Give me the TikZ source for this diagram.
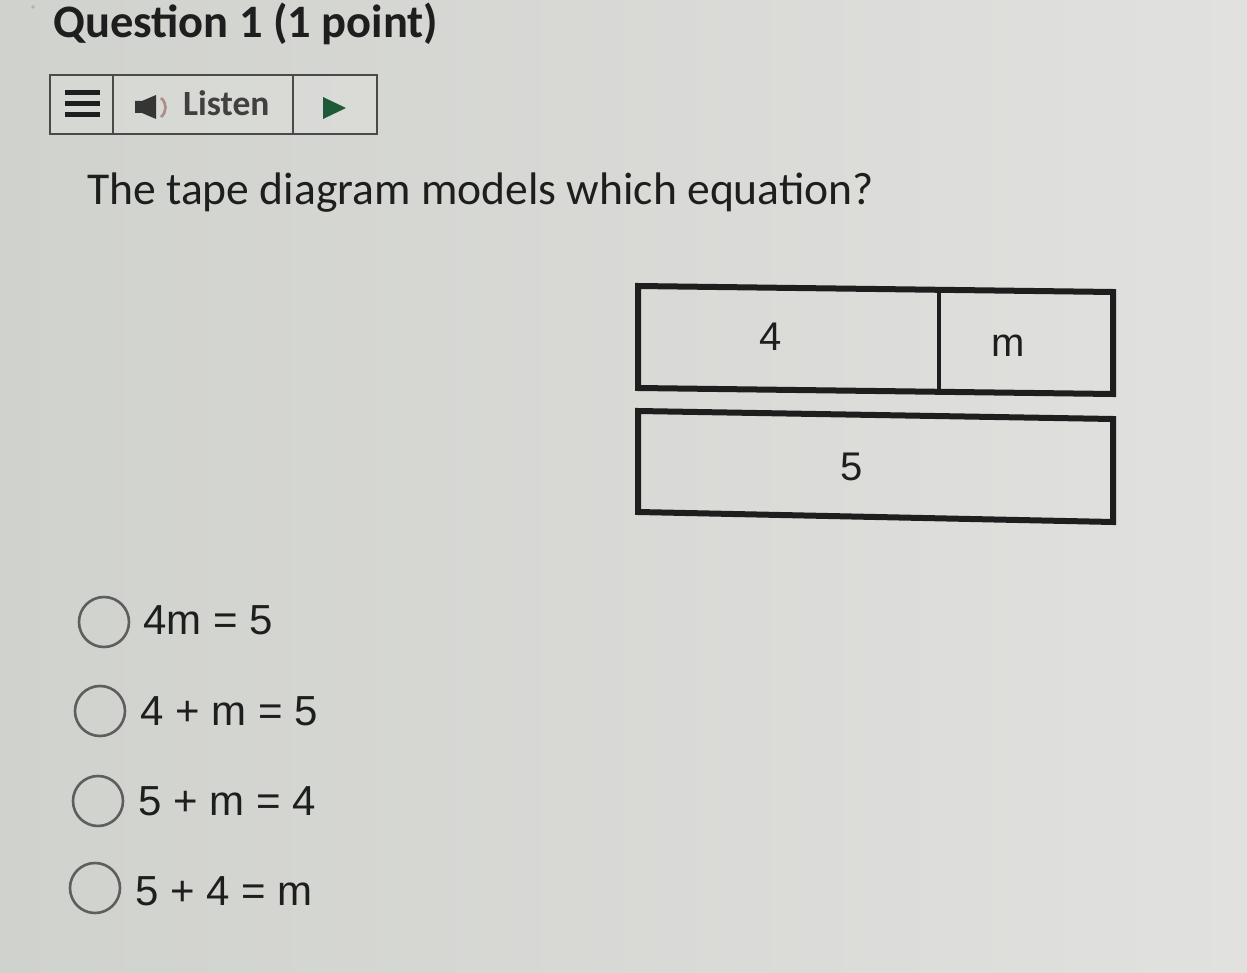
\documentclass[tikz,border=0pt]{standalone}
\usepackage{fontspec}
\setmainfont{Liberation Sans}
\newfontfamily\calfont{Carlito}
\definecolor{bgL}{HTML}{D0D2CD}
\definecolor{bgR}{HTML}{E1E1DF}
\definecolor{ink}{HTML}{1E1E1E}
\definecolor{barline}{HTML}{4A4A4A}
\definecolor{circ}{HTML}{5E5E5E}
\definecolor{playgreen}{HTML}{1F5A38}
\definecolor{wave}{HTML}{B08A86}
\tikzset{
  titletext/.style={anchor=base west, inner sep=0pt, text=ink, font=\calfont\bfseries\fontsize{46.5}{54}\selectfont},
  qtext/.style={anchor=base west, inner sep=0pt, text=ink, font=\calfont\fontsize{45.6}{54}\selectfont},
  listentext/.style={anchor=base west, inner sep=0pt, text=ink!85, font=\calfont\bfseries\fontsize{35.5}{40}\selectfont},
  tapelabel/.style={anchor=base, inner sep=0pt, text=ink, font=\fontsize{40}{44}\selectfont},
  opttext/.style={anchor=base west, inner sep=0pt, text=ink, font=\fontsize{42}{48}\selectfont},
  tapebox/.style={draw=ink, line width=6pt, line join=miter},
  tapediv/.style={draw=ink, line width=3.5pt},
  radio/.style={draw=circ, line width=2.6pt},
  barbox/.style={fill=white, fill opacity=0.12},
}
\begin{document}
\begin{tikzpicture}[x=1pt,y=-1pt]
\useasboundingbox (0,0) rectangle (1247,973);
\shade[left color=bgL, right color=bgR] (0,0) rectangle (1247,973);
\fill[gray!60] (33,7) circle (1.8);

% title
\node[titletext] (title) at (53,38) {Question 1 (1 point)};

% listen bar
\path[barbox] (50,75) rectangle (377,134);
\draw[barline, line width=2.4pt] (50,75) rectangle (377,134);
\draw[barline, line width=2.4pt] (113,75) -- (113,134);
\draw[barline, line width=2.4pt] (293,75) -- (293,134);
\fill[ink] (65,90) rectangle (100,95.5);
\fill[ink] (65,101) rectangle (100,106.5);
\fill[ink] (65,112) rectangle (100,117.5);
\fill[ink!90] (135,101) -- (142,101) -- (156,95) -- (156,119) -- (142,113) -- (135,113) -- cycle;
\draw[wave, line width=2.6pt] (161,98) .. controls (167,103) and (167,112) .. (161,117);
\node[listentext] (listen) at (183,116) {Listen};
\fill[playgreen] (323,97) -- (346,108) -- (323,119) -- cycle;

% question
\node[qtext] (question) at (87,205) {The tape diagram models which equation?};

% tape diagram
\coordinate (a1) at (638,286);
\coordinate (a2) at (1113,292);
\coordinate (a3) at (1113,394);
\coordinate (a4) at (638,388);
\coordinate (d1) at (939,288);
\coordinate (d2) at (939,391);
\path[tapebox] (a1) -- (a2) -- (a3) -- (a4) -- cycle;
\path[tapediv] (d1) -- (d2);
\coordinate (b1) at (638,411);
\coordinate (b2) at (1113,419);
\coordinate (b3) at (1113,522);
\coordinate (b4) at (638,512);
\path[tapebox] (b1) -- (b2) -- (b3) -- (b4) -- cycle;
\node[tapelabel] (four) at (771,351) {4};
\node[tapelabel] (em) at (1008,356) {m};
\node[tapelabel] (five) at (852,480) {5};

% options
\draw[radio] (104,622) circle (25);
\node[opttext] (o1) at (143,634) {4m = 5};
\draw[radio] (100,711) circle (25);
\node[opttext] (o2) at (140,725) {4 + m = 5};
\draw[radio] (98,801) circle (25);
\node[opttext] (o3) at (138,815) {5 + m = 4};
\draw[radio] (95,888) circle (25);
\node[opttext] (o4) at (135,905) {5 + 4 = m};
\end{tikzpicture}
\end{document}
